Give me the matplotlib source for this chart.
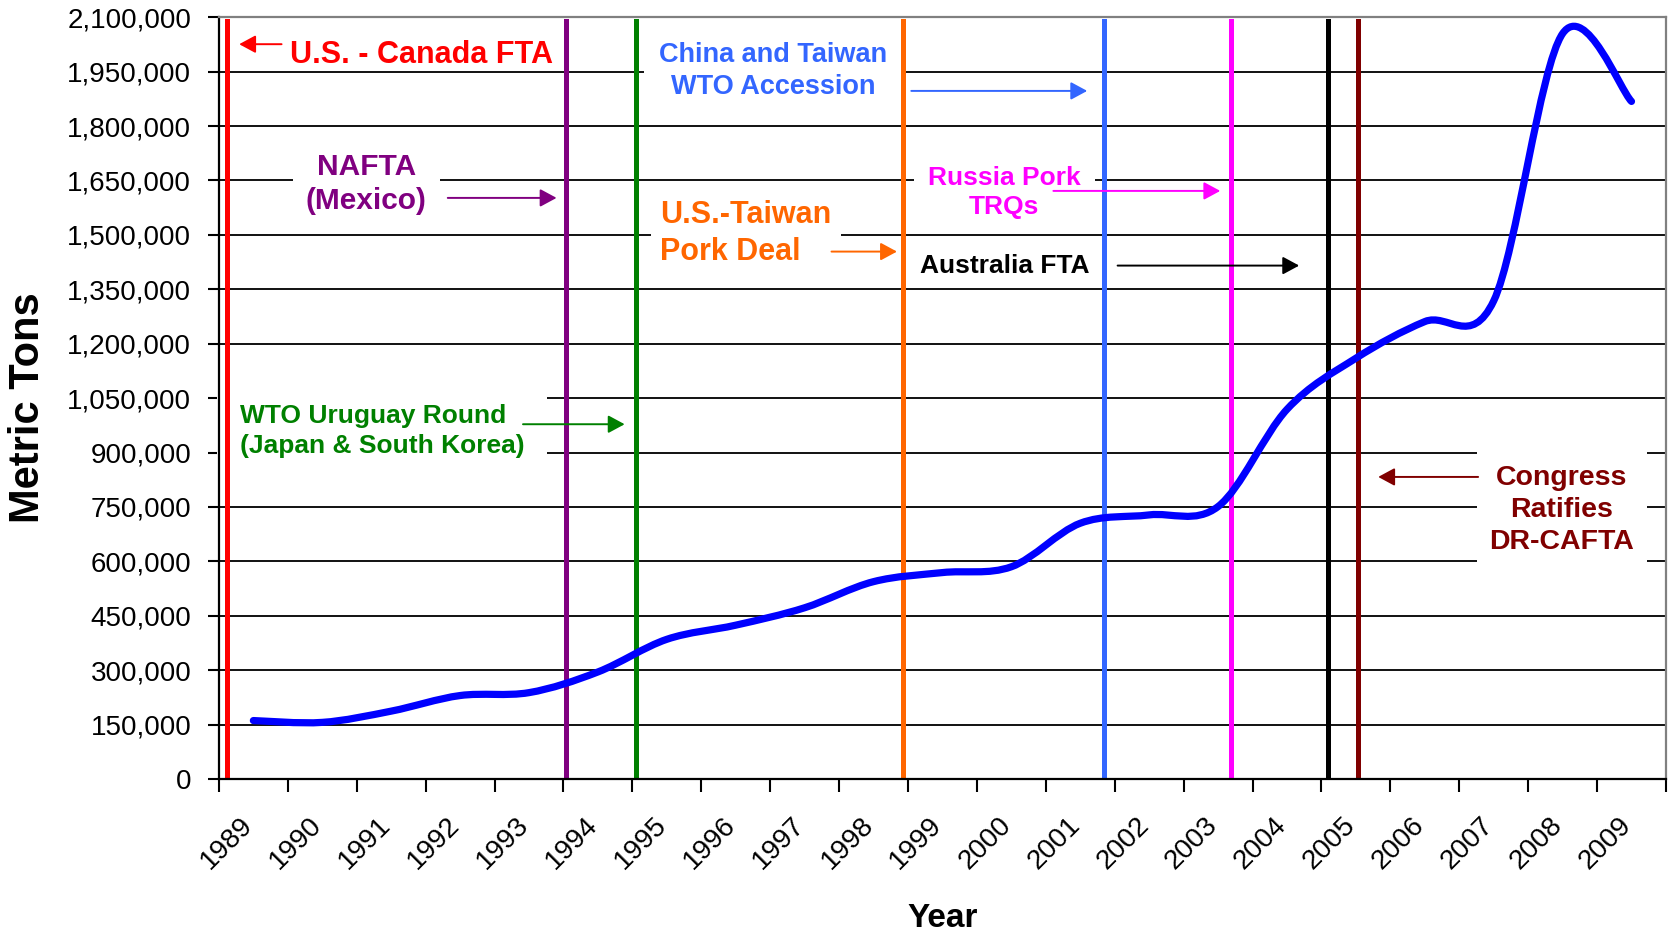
import numpy as np
import matplotlib
matplotlib.use('Agg')
import matplotlib.pyplot as plt
from matplotlib.path import Path
from matplotlib.patches import PathPatch
from matplotlib.transforms import ScaledTranslation

plt.rcParams['font.family'] = ['Liberation Sans', 'DejaVu Sans']

# U.S. pork exports, metric tons
years = [str(y) for y in range(1989, 2010)]
exports = [161000, 156000, 187000, 230000, 238000, 295000, 385000, 424000,
           472000, 544000, 569000, 585000, 705000, 728000, 751000, 1019000,
           1160000, 1261000, 1318000, 2055000, 1868000]

# trade events: position on the category axis (0 = 1989) and colour
event_pos = [-0.38, 4.54, 5.56, 9.43, 12.35, 14.19, 15.59, 16.03]
event_colors = ['#FF0000', '#800080', '#008000', '#FF6600',
                '#3366FF', '#FF00FF', '#000000', '#800000']

# labels: text, x, y (top of text), alignment, size, colour, box pad
labels = [
    ('U.S. - Canada FTA', 0.529, 2037700, 'left', 22, '#FF0000', None),
    ('NAFTA\n(Mexico)', 1.640, 1726100, 'center', 21.5, '#800080', 0.45),
    ('WTO Uruguay Round\n(Japan & South Korea)', -0.196, 1034000, 'left', 19, '#008000', 0.85),
    ('China and Taiwan\nWTO Accession', 7.545, 2033000, 'center', 19.5, '#3366FF', 0.55),
    ('U.S.-Taiwan\nPork Deal', 5.906, 1596500, 'left', 22, '#FF6600', 0.3),
    ('Russia Pork\nTRQs', 10.899, 1691100, 'center', 19, '#FF00FF', 0.53),
    ('Australia FTA', 9.675, 1447600, 'left', 19, '#000000', 0.25),
    ('Congress\nRatifies\nDR-CAFTA', 18.992, 865800, 'center', 20.5, '#800000', 0.45),
]
# arrows: tail x, head x, y, colour
arrows = [
    (0.409, -0.206, 2025800, '#FF0000'),
    (2.821, 4.400, 1602000, '#800080'),
    (3.913, 5.388, 978000, '#008000'),
    (9.548, 12.101, 1897000, '#3366FF'),
    (8.390, 9.340, 1454000, '#FF6600'),
    (11.610, 14.032, 1621300, '#FF00FF'),
    (12.542, 15.177, 1415400, '#000000'),
    (17.774, 16.324, 832700, '#800000'),
]


def smooth_path(x, y):
    # Excel-like smoothed line: Catmull-Rom turned into cubic Bezier pieces
    pts = np.column_stack([x, y]).astype(float)
    ext = np.vstack([pts[0], pts, pts[-1]])
    verts = [pts[0]]
    codes = [Path.MOVETO]
    for i in range(len(pts) - 1):
        p0, p1, p2, p3 = ext[i], ext[i + 1], ext[i + 2], ext[i + 3]
        verts += [p1 + (p2 - p0) / 6, p2 - (p3 - p1) / 6, p2]
        codes += [Path.CURVE4] * 3
    return Path(verts, codes)


fig = plt.figure(figsize=(16.75, 9.34), dpi=100)
ax = fig.add_axes([0.1307, 0.1660, 0.8639, 0.8155])

x = np.arange(len(years))
ax.add_patch(PathPatch(smooth_path(x, exports), fill=False, edgecolor='#0000FF',
                       lw=5.2, capstyle='round', joinstyle='round', zorder=3))

for pos, col in zip(event_pos, event_colors):
    ax.axvline(pos, ymin=0, ymax=0.995, color=col, lw=3.6, zorder=2)

for text, tx, ty, ha, fs, col, pad in labels:
    box = None
    if pad is not None:
        box = dict(boxstyle='square,pad=%s' % pad, fc='white', ec='none')
    ax.text(tx, ty, text, ha=ha, va='top', fontsize=fs, color=col,
            fontweight='bold', linespacing=1.3, bbox=box, zorder=1.5)

for x0, x1, ay, col in arrows:
    ax.annotate('', xy=(x1, ay), xytext=(x0, ay),
                arrowprops=dict(arrowstyle='-|>,head_length=0.5,head_width=0.27',
                                color=col, lw=1.4, mutation_scale=20,
                                shrinkA=0, shrinkB=0), zorder=4)

ax.set_xlim(-0.5, len(years) - 0.5)
ax.set_ylim(0, 2100000)
ax.set_yticks(np.arange(0, 2100001, 150000))
ax.set_yticklabels(['{:,}'.format(v) for v in range(0, 2100001, 150000)], fontsize=20)
ax.set_xticks(x)
ax.set_xticklabels(years, rotation=45, ha='right', va='top', fontsize=20)
ax.set_xticks(np.arange(-0.5, len(years)), minor=True)
ax.tick_params(axis='x', which='major', length=0, pad=24)
ax.tick_params(axis='x', which='minor', length=9, width=1.5, color='black')
ax.tick_params(axis='y', which='major', length=8, width=1.5, pad=12)
offset = ScaledTranslation(5 / 100, 0, fig.dpi_scale_trans)
for lab in ax.get_xticklabels():
    lab.set_transform(lab.get_transform() + offset)

ax.set_axisbelow(True)
ax.yaxis.grid(True, color='#111111', lw=1.4)
ax.xaxis.grid(False)
for side in ['left', 'bottom']:
    ax.spines[side].set_color('black')
    ax.spines[side].set_linewidth(1.6)
for side in ['top', 'right']:
    ax.spines[side].set_color('#808080')
    ax.spines[side].set_linewidth(1.6)

fig.text(28 / 1675, 1 - 408 / 934, 'Metric Tons', rotation=90, ha='center', va='center',
         fontsize=30, fontweight='bold')
ax.set_xlabel('Year', fontsize=24, fontweight='bold')
ax.xaxis.set_label_coords(0.5, -0.163)

fig.savefig('out.png', dpi=100)
